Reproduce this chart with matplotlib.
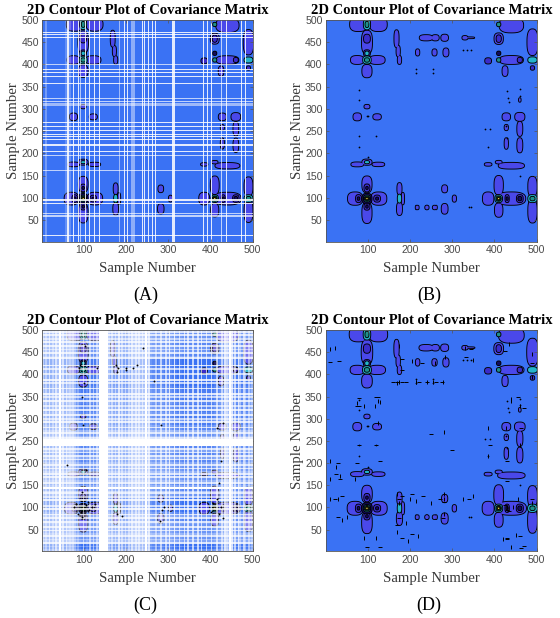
#!/usr/bin/env python3
"""Four covariance contour panels, blobs and stripes read off the picture."""

import matplotlib
matplotlib.use("Agg")
import matplotlib.pyplot as plt
import numpy as np
from matplotlib.patches import Polygon

# contour regions shared by panels A, B, D: centre x, centre y, width, height, level
blob_x = [70, 126, 98, 98, 78, 122, 98, 98, 98, 98, 98, 98, 98,
          75, 122, 98, 98, 98, 98, 98, 98, 98, 98, 98, 78, 125, 98, 98,
          385, 440, 410, 410, 460, 430, 460, 410, 410, 410, 410,
          490, 490, 490, 490,
          440, 410, 385, 425, 440, 490, 490, 410, 410, 410, 410, 410, 460, 490,
          175, 175, 183, 175, 282, 282, 305,
          75, 122, 98, 428, 460, 460, 460, 428, 428,
          75, 98, 98, 125, 440, 410, 385, 175, 172, 168,
          78, 122, 98, 98, 430, 460]
blob_y = [98, 98, 130, 66, 98, 98, 122, 80, 98, 98, 98, 98, 98,
          410, 410, 385, 450, 458, 425, 425, 410, 410, 490, 490, 490, 490, 490, 490,
          98, 98, 128, 72, 98, 98, 98, 98, 98, 98, 98,
          125, 70, 98, 98,
          410, 458, 408, 385, 488, 450, 410, 458, 458, 425, 490, 410, 410, 392,
          120, 75, 98, 98, 120, 75, 98,
          282, 282, 305, 282, 282, 255, 218, 258, 222,
          175, 180, 180, 175, 172, 180, 175, 410, 430, 458,
          98, 98, 122, 80, 98, 98]
blob_w = [34, 36, 22, 22, 12, 14, 12, 12, 22, 14, 10, 6, 3,
          30, 36, 22, 24, 14, 14, 8, 18, 10, 15, 7, 40, 40, 4, 4,
          25, 66, 20, 18, 14, 8, 7, 16, 10, 6, 3,
          20, 20, 20, 10,
          55, 8, 14, 12, 56, 24, 20, 20, 10, 8, 8, 8, 10, 8,
          10, 12, 6, 8, 12, 14, 8,
          18, 18, 12, 18, 22, 12, 12, 8, 8,
          28, 22, 10, 28, 60, 14, 16, 8, 8, 10,
          4, 5, 4, 4, 3, 5]
blob_h = [28, 28, 36, 46, 16, 14, 16, 14, 22, 14, 10, 6, 3,
          18, 18, 28, 52, 18, 14, 8, 16, 8, 22, 12, 30, 30, 4, 4,
          28, 28, 42, 30, 16, 16, 8, 16, 10, 6, 3,
          44, 52, 16, 8,
          18, 14, 12, 22, 32, 58, 12, 24, 14, 8, 8, 8, 10, 8,
          26, 28, 26, 18, 16, 22, 14,
          16, 12, 8, 16, 18, 32, 32, 12, 24,
          9, 12, 5, 8, 13, 6, 6, 18, 24, 38,
          6, 5, 5, 5, 6, 6]
blob_lvl = [0, 0, 0, 0, 1, 1, 1, 1, 2, 3, 4, 5, 6,
            0, 0, 0, 0, 1, 1, 3, 3, 4, 3, 4, 0, 0, 2, 2,
            0, 0, 0, 0, 1, 1, 2, 3, 4, 5, 6,
            0, 0, 3, 4,
            0, 1, 1, 0, 0, 0, 3, 0, 1, 2, 4, 4, 1, 1,
            0, 0, 0, 3, 0, 0, 0,
            0, 0, 0, 0, 0, 0, 0, 0, 0,
            0, 0, 3, 0, 0, 0, 0, 0, 0, 0,
            2, 2, 2, 2, 2, 2]

# extra regions in panel B and D only, same columns
extra_x = [238, 260, 282, 218, 258, 285, 218, 240, 258, 215, 240, 262, 330, 340, 125, 460]
extra_y = [460, 460, 460, 427, 427, 427, 78, 78, 78, 78, 78, 78, 460, 460, 98, 320]
extra_w = [30, 16, 16, 8, 10, 12, 5, 8, 8, 3, 3, 3, 12, 24, 8, 4]
extra_h = [12, 12, 14, 14, 14, 18, 8, 8, 8, 8, 8, 8, 8, 2, 12, 8]

# small black specks
speck_bx = [80, 80, 78, 78, 98, 100, 430, 432, 434, 460, 460, 428, 430, 378, 385, 215,
            255, 215, 255, 340, 345, 325, 335, 345, 390, 460, 100, 120]
speck_by = [342, 320, 240, 215, 283, 192, 340, 325, 315, 345, 330, 262, 235, 255, 215, 390,
            390, 380, 380, 78, 78, 432, 432, 432, 255, 150, 283, 240]
speck_dx = [10, 10, 22, 32, 10, 22, 30, 40, 50, 30, 40, 80, 90, 125, 130, 75, 90, 98, 120,
            130, 170, 180, 195, 205, 220, 250, 280, 300, 325, 340, 350, 160, 170, 190, 215,
            240, 255, 275, 385, 390, 385, 430, 440, 455, 460, 470, 10, 30, 25, 35, 70, 75,
            170, 180, 200, 205, 215, 230, 250, 270, 330, 345, 280, 80, 125, 430, 455, 460,
            10, 25, 35, 430, 440, 170, 190,
            175, 175, 175, 175, 180, 280, 280, 280, 278, 284, 170, 175, 182, 215, 222, 240,
            262, 278, 430, 430, 435, 445, 425, 490, 490, 490, 490, 490, 425, 435, 120, 125,
            130, 205, 228, 260, 332, 350, 182, 420, 430, 452, 462, 440, 470, 75, 78, 118,
            120, 428, 462, 460]
speck_dy = [458, 428, 460, 430, 120, 120, 120, 125, 78, 78, 72, 346, 328, 350, 338, 328, 30,
            10, 30, 10, 45, 30, 25, 40, 35, 265, 270, 230, 120, 120, 125, 382, 380, 382, 382,
            382, 382, 382, 280, 240, 215, 30, 340, 350, 328, 325, 205, 200, 190, 165, 165, 200,
            130, 125, 120, 130, 115, 125, 110, 120, 460, 458, 120, 240, 290, 205, 120, 35,
            165, 175, 170, 160, 345, 60, 65,
            120, 110, 75, 465, 435, 130, 112, 85, 75, 440, 382, 382, 382, 382, 382, 382, 382,
            382, 95, 102, 92, 102, 105, 110, 120, 445, 425, 395, 452, 468, 350, 340, 205, 430,
            425, 425, 440, 432, 410, 28, 28, 38, 8, 10, 12, 335, 328, 328, 240, 280, 280, 240]
speck_cx = [60, 75, 80, 85, 88, 90, 92, 95, 105, 110, 112, 118, 125, 95, 100, 130, 178, 190,
            200, 215, 225, 265, 280, 285, 290, 400, 405, 415, 420, 425, 430, 98, 102, 415, 425,
            95, 105, 175, 178, 180, 200, 240, 282, 430, 420]
speck_cy = [195, 100, 108, 85, 415, 420, 90, 78, 105, 112, 95, 100, 108, 135, 380, 415, 85, 80,
            410, 415, 420, 385, 70, 95, 100, 90, 110, 120, 85, 100, 75, 285, 465, 280, 205,
            350, 185, 420, 405, 415, 415, 460, 285, 290, 155]

# white rules of panel A: positions, widths, strengths
rule_vx = [10, 62, 62, 75, 86, 92, 104, 112, 125, 137, 185, 196, 204, 216, 221, 228, 238, 244,
           252, 262, 269, 313, 375, 384, 392, 402, 426, 438, 446, 451, 458, 474, 482]
rule_vw = [3, 16, 3, 2, 2, 2, 2, 2, 2, 2, 2, 2, 2, 8, 2, 2, 2, 2, 2, 2, 2, 7, 2, 2, 2, 2, 2, 2,
           2, 2, 2, 2, 2]
rule_va = [.35, .25, 1, 1, 1, .7, 1, 1, 1, 1, .6, 1, 1, .5, 1, 1, 1, 1, 1, 1, 1, 1, 1, 1, 1, 1,
           .8, 1, 1, 1, 1, 1, 1]
rule_hy = [472, 468, 461, 432, 400, 389, 382, 372, 365, 357, 354, 324, 316, 310, 269, 261, 251,
           243, 237, 231, 218, 204, 196, 161, 138, 106, 95, 86, 65, 58, 14]
rule_hw = [2, 2, 3, 1, 2, 2, 2, 2, 2, 2, 1, 2, 2, 5, 2, 2, 2, 2, 2, 2, 5, 2, 2, 2, 1, 2, 3, 2, 2,
           5, 2]
rule_ha = [1, 1, 1, .7, .8, 1, 1, 1, 1, 1, .7, .8, .8, .6, 1, 1, 1, 1, 1, 1, 1, 1, .8, .8, .6, 1,
           1, 1, .8, .8, 1]

# column and row strength of panel C, 4 samples per value, 0 = white, 9 = full colour
col_c = [2, 4, 2, 4, 1, 4, 2, 4, 1, 3, 0, 3, 1, 4, 1, 3, 2, 3, 2, 4, 7, 5, 8, 9, 3, 9, 7, 9, 3, 8,
         3, 8, 3, 6, 0, 0, 0, 0, 0, 3, 5, 2, 5, 2, 5, 1, 5, 2, 5, 2, 5, 2, 4, 1, 3, 1, 3, 1, 3, 1,
         3, 0, 3, 1, 6, 7, 7, 3, 8, 7, 2, 7, 8, 2, 7, 1, 7, 8, 1, 8, 9, 2, 8, 9, 2, 9, 2, 9, 9, 2,
         9, 9, 2, 9, 2, 9, 9, 2, 9, 9, 2, 9, 8, 2, 8, 7, 2, 6, 1, 2, 4, 0, 1, 7, 2, 8, 1, 4, 8, 2,
         4, 8, 3, 6, 4]
row_c = [6, 9, 6, 9, 1, 5, 3, 6, 1, 4, 6, 1, 6, 1, 6, 5, 1, 7, 1, 5, 1, 7, 9, 1, 9, 2, 9, 9, 1, 9,
         2, 6, 1, 3, 7, 0, 5, 7, 1, 4, 6, 1, 7, 1, 4, 6, 1, 6, 1, 5, 7, 1, 5, 1, 7, 1, 5, 1, 7, 0,
         0, 0, 0, 1, 4, 6, 1, 4, 7, 1, 6, 8, 1, 6, 2, 8, 1, 7, 8, 1, 7, 2, 8, 7, 1, 8, 2, 7, 1, 8,
         8, 1, 8, 9, 2, 9, 1, 9, 9, 2, 9, 9, 2, 9, 1, 9, 9, 9, 1, 5, 7, 1, 6, 2, 6, 1, 7, 1, 6, 2,
         6, 1, 6, 1, 4]

titles = ["(A)", "(B)", "(C)", "(D)"]
axis_px = [(42.3, 20, 210.4, 221.7), (326, 20, 210.7, 221.7),
           (42.3, 330, 210.4, 221.3), (326, 330, 210.7, 221.3)]
level_colors = ["#4a48ea", "#3a2ccb", "#120c60", "#25b4cc", "#1f8f8a", "#c9b832", "#f6e94a"]
BG = "#3a72f4"
W, H = 560, 618


def rounded_outline(x, y, w, h):
    # squarer than an ellipse, closer to how the contour regions look
    t = np.linspace(0, 2 * np.pi, 49)
    c, s = np.cos(t), np.sin(t)
    return np.column_stack([x + w / 2 * np.sign(c) * np.abs(c) ** 0.75,
                            y + h / 2 * np.sign(s) * np.abs(s) ** 0.75])


def draw_blobs(ax, scale=1.0, extras=True):
    xs, ys, ws, hs, ls = list(blob_x), list(blob_y), list(blob_w), list(blob_h), list(blob_lvl)
    if extras:
        xs += extra_x
        ys += extra_y
        ws += extra_w
        hs += extra_h
        ls += [0] * len(extra_x)
    # outline first, fill on top, so touching regions of a level read as one contour
    for lvl in range(len(level_colors)):
        parts = [p for p in zip(xs, ys, ws, hs, ls) if p[4] == lvl]
        for x, y, w, h, _ in parts:
            ax.add_patch(Polygon(rounded_outline(x, y, w * scale, h * scale), fc="none",
                                 ec="black", lw=1.3))
        for x, y, w, h, _ in parts:
            ax.add_patch(Polygon(rounded_outline(x, y, w * scale, h * scale),
                                 fc=level_colors[lvl], ec="none"))


def style_axes(ax, label):
    ax.set_xlim(1, 500)
    ax.set_ylim(1, 500)
    ax.set_facecolor(BG)
    ax.set_xticks(range(100, 501, 100))
    ax.set_yticks(range(50, 501, 50))
    ax.tick_params(labelsize=7.6, labelcolor="#4a4a4a", color="#555555", length=2, width=0.5,
                   direction="in", top=True, right=True, pad=2.5)
    for lab in ax.get_xticklabels() + ax.get_yticklabels():
        lab.set_family("Liberation Sans")
    for spine in ax.spines.values():
        spine.set_color("#555555")
        spine.set_linewidth(0.6)
    font = {"family": "Liberation Serif"}
    ax.set_title("2D Contour Plot of Covariance Matrix", fontsize=10.5, fontweight="bold",
                 color="black", pad=4, **font)
    ax.set_xlabel("Sample Number", fontsize=10.6, color="#3a3a3a", labelpad=5, **font)
    ax.set_ylabel("Sample Number", fontsize=10.6, color="#3a3a3a", labelpad=1, **font)
    ax.text(0.49, -0.243, label, transform=ax.transAxes, ha="center", va="center",
            fontsize=13, color="black", **font)


def main():
    fig = plt.figure(figsize=(W / 100, H / 100), dpi=100)
    axes = [fig.add_axes([l / W, 1 - (t + h) / H, w / W, h / H]) for l, t, w, h in axis_px]

    # panel A
    ax = axes[0]
    draw_blobs(ax, scale=0.95, extras=False)
    for x, w, a in zip(rule_vx, rule_vw, rule_va):
        ax.axvspan(x - w / 2, x + w / 2, color="white", alpha=a * 0.85, lw=0)
    for y, w, a in zip(rule_hy, rule_hw, rule_ha):
        ax.axhspan(y - w / 2, y + w / 2, color="white", alpha=a * 0.85, lw=0)

    # panel B
    ax = axes[1]
    draw_blobs(ax)
    ax.scatter(speck_bx, speck_by, s=1.6, c="black", lw=0, zorder=3)

    # panel C: white mask over the same contours
    ax = axes[2]
    draw_blobs(ax, scale=0.9, extras=False)
    ax.scatter(speck_cx, speck_cy, s=1.8, c="black", lw=0, zorder=3)
    strength = np.outer(np.array(row_c) / 9, np.array(col_c) / 9) ** 0.75
    mask = np.ones(strength.shape + (4,))
    mask[..., 3] = 1 - strength
    ax.imshow(mask, origin="lower", extent=(1, 500, 1, 500), aspect="auto", zorder=2,
              interpolation="nearest")

    # panel D
    ax = axes[3]
    draw_blobs(ax, scale=1.05)
    ax.scatter(speck_bx, speck_by, s=1.6, c="black", lw=0, zorder=3)
    ax.scatter(speck_dx[::2], speck_dy[::2], s=7, marker="|", c="black", lw=0.7, zorder=3)
    ax.scatter(speck_dx[1::2], speck_dy[1::2], s=7, marker="_", c="black", lw=0.7, zorder=3)

    for ax, label in zip(axes, titles):
        style_axes(ax, label)
    fig.savefig("out.png", dpi=100)


if __name__ == "__main__":
    main()
